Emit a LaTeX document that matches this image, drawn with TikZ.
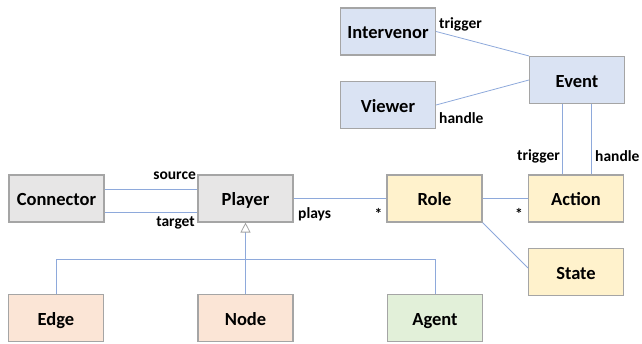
\documentclass[tikz,border=0pt]{standalone}
\usepackage{fontspec}
\setmainfont{Carlito}
\usetikzlibrary{arrows.meta,calc}
\definecolor{bordc}{HTML}{A5A5A5}
\definecolor{linec}{HTML}{8EA9DB}
\definecolor{greyf}{HTML}{E7E6E6}
\definecolor{bluef}{HTML}{DAE3F3}
\definecolor{yelf}{HTML}{FFF2CC}
\definecolor{salf}{HTML}{FBE5D6}
\definecolor{grnf}{HTML}{E2F0D9}
\tikzset{
  cls/.style={draw=bordc, line width=1.1pt, minimum width=95pt, minimum height=47pt, inner sep=0pt,
    text height=15.5pt, text depth=0.5pt,
    font=\fontsize{18.5}{20}\selectfont\bfseries},
  conn/.style={draw=linec, line width=0.8pt},
  lab/.style={font=\fontsize{15.5}{17}\selectfont\bfseries, inner sep=0pt},
}
\begin{document}
\begin{tikzpicture}[x=1pt,y=-1pt]
\useasboundingbox (0,0) rectangle (642,344);
\node[cls, fill=greyf] (Connector) at (56.5,198.5) {Connector};
\node[cls, fill=greyf] (Player) at (245.5,198.5) {Player};
\node[cls, fill=yelf] (Role) at (434.5,198.5) {Role};
\node[cls, fill=yelf] (Action) at (576,198.5) {Action};
\node[cls, fill=yelf] (State) at (576,272) {State};
\node[cls, fill=bluef] (Event) at (577,80) {Event};
\node[cls, fill=bluef] (Intervenor) at (388,31.5) {Intervenor};
\node[cls, fill=bluef] (Viewer) at (388,105) {Viewer};
\node[cls, fill=salf] (Edge) at (56,318) {Edge};
\node[cls, fill=salf] (Node) at (245.5,318) {Node};
\node[cls, fill=grnf] (Agent) at (435,318) {Agent};

\draw[conn] ($(Connector.east)+(0,-9.5)$) -- ($(Player.west)+(0,-9.5)$);
\draw[conn] ($(Connector.east)+(0,13.5)$) -- ($(Player.west)+(0,13.5)$);
\draw[conn] (Player.east) -- (Role.west);
\draw[conn] (Role.east) -- (Action.west);
\draw[conn] (Role.south east) -- ($(State.west)+(0,-4)$);
\draw[conn] (Intervenor.east) -- (Event.north west);
\draw[conn] (Viewer.east) -- (Event.west);
\draw[conn] ($(Event.south)+(-15,0)$) -- ($(Action.north)+(-14,0)$);
\draw[conn] ($(Event.south)+(14,0)$) -- ($(Action.north)+(15,0)$);

\coordinate (bus) at (245.5,259);
\draw[conn, -{Triangle[open,length=10pt,width=10pt,color=bordc]}] (Node.north) -- (Player.south);
\draw[conn] (Edge.north) -- (Edge.north |- bus) -- (Agent.north |- bus) -- (Agent.north);

\node[lab, anchor=east] (lsource) at (196,176) {source};
\node[lab, anchor=east] (ltarget) at (195,223) {target};
\node[lab, anchor=west] (lplays) at (298,214) {plays};
\node[lab] (lstar1) at (378.5,214) {*};
\node[lab] (lstar2) at (519,214) {*};
\node[lab, anchor=west] (ltrig1) at (439,24) {trigger};
\node[lab, anchor=west] (lhand1) at (439,118) {handle};
\node[lab, anchor=east] (ltrig2) at (560,156) {trigger};
\node[lab, anchor=west] (lhand2) at (595,156) {handle};
\end{tikzpicture}
\end{document}
